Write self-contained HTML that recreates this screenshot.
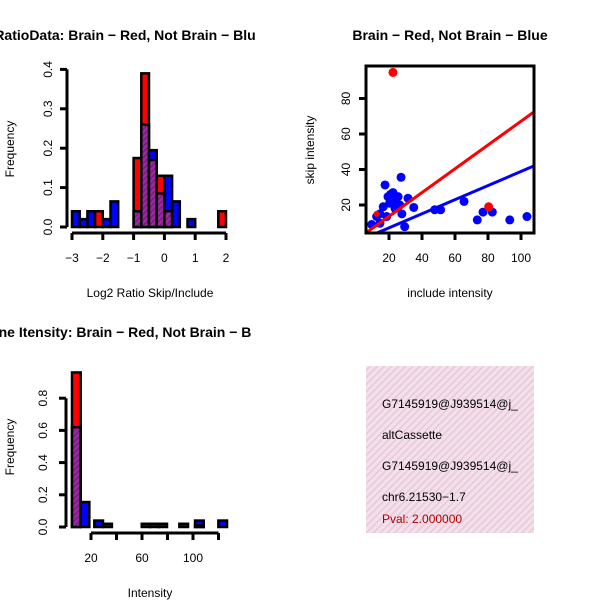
<!DOCTYPE html>
<html><head><meta charset="utf-8"><style>
body{margin:0;background:#fff}
svg{display:block;font-family:"Liberation Sans",sans-serif}
</style></head><body>
<svg id="s" width="600" height="600" viewBox="0 0 600 600">
<defs>
<pattern id="hatch" width="4" height="4" patternUnits="userSpaceOnUse" patternTransform="rotate(45)">
<rect width="4" height="4" fill="#9a2aa0"/><rect width="1.5" height="4" fill="#7a1a80"/></pattern>
<pattern id="pink" width="5" height="5" patternUnits="userSpaceOnUse" patternTransform="rotate(45)">
<rect width="5" height="5" fill="#f9dcf2"/><rect width="1.6" height="5" fill="#dcd2cc"/></pattern>
</defs>
</svg>
<script>
// Panel 1: log2 ratio histogram
const h1Bins=[-3,-2.75,-2.5,-2.25,-2,-1.75,-1.5,-1.25,-1,-0.75,-0.5,-0.25,0,0.25,0.5,0.75,1,1.25,1.5,1.75];
const h1Red=[0,0,0,0.04,0,0,0,0,0.175,0.39,0.17,0.13,0.04,0,0,0,0,0,0,0.04];
const h1Blue=[0.04,0.02,0.04,0,0.02,0.065,0,0,0.04,0.26,0.195,0.085,0.13,0.065,0,0.02,0,0,0,0];
const h1XTicks=[-3,-2,-1,0,1,2];
const h1YTicks=[0,0.1,0.2,0.3,0.4];
// Panel 2: scatter
const blueX=[17.6,27.3,22.4,19.4,25.5,31.5,20.4,26.5,35,47.7,51.3,65.5,73.5,77,82.6,93.2,103.6,29.5,14.5,12.5,9.5,16.5,27.8,23.7,18.6,14.5,21,24];
const blueY=[31.3,35.6,27,24.7,24.7,23.8,21,20,18.6,17.3,17.3,22,11.6,16,16,11.6,13.5,7.8,15,13.5,9,19,15,18,13.5,9.7,26,22];
const redX=[22.4,80.4,12.5];
const redY=[94.7,19,15];
const redFit=[0.2,0.67];
const blueFit=[-0.8,0.397];
const scXTicks=[20,40,60,80,100];
const scYTicks=[20,40,60,80];
// Panel 3: intensity histogram
const h3Start=[5.1,11.9,22.6,29.6,59.8,66.3,72.8,89.3,101.6,119.9];
const h3Red=[0.96,0,0,0,0,0,0,0,0.01,0];
const h3Blue=[0.62,0.155,0.04,0.02,0.02,0.02,0.02,0.02,0.04,0.04];
const h3Width=6.8;
const h3XTicks=[20,40,60,80,100,120];
const h3XLabels=["20","","60","","100",""];
const h3YTicks=[0,0.2,0.4,0.6,0.8];
const infoLines=["G7145919@J939514@j_","altCassette","G7145919@J939514@j_","chr6.21530\u22121.7"];
const pvalText="Pval: 2.000000";

const S=document.getElementById('s');
const NS='http://www.w3.org/2000/svg';
function mk(t,a,txt){const e=document.createElementNS(NS,t);for(const k in a)e.setAttribute(k,a[k]);if(txt!==undefined)e.textContent=txt;S.appendChild(e);return e;}
function fmt(v,d){return v.toFixed(d);}

// ---- Panel 1
const x1=v=>72+(v+3)*30.8, y1=v=>227-v*394;
let t=mk('text',{x:125,y:40,'font-size':14,'font-weight':'bold','text-anchor':'middle'},'RatioData: Brain \u2212 Red, Not Brain \u2212 Blu');

h1Bins.forEach((b,i)=>{
  const r=h1Red[i],bl=h1Blue[i];const hi=Math.max(r,bl),lo=Math.min(r,bl);
  if(hi<=0)return;
  const xa=x1(b),w=x1(b+0.25)-xa;
  let e=mk('rect',{x:xa,y:y1(hi),width:w,height:y1(0)-y1(hi),fill:r>=bl?'#f00':'#00f',stroke:'#000','stroke-width':2.5});
  
  if(lo>0){e=mk('rect',{x:xa,y:y1(lo),width:w,height:y1(0)-y1(lo),fill:'url(#hatch)',stroke:'#000','stroke-width':2.5});
  }
});
mk('line',{x1:67,y1:y1(0),x2:67,y2:y1(0.4),stroke:'#000','stroke-width':3});
h1YTicks.forEach(v=>{mk('line',{x1:60,y1:y1(v),x2:67,y2:y1(v),stroke:'#000','stroke-width':3});
 const e=mk('text',{x:0,y:0,'font-size':12,'text-anchor':'middle',transform:`translate(52,${y1(v)}) rotate(-90)`},fmt(v,1));
 });
mk('line',{x1:x1(-3),y1:233,x2:x1(2),y2:233,stroke:'#000','stroke-width':3});
h1XTicks.forEach(v=>{mk('line',{x1:x1(v),y1:233,x2:x1(v),y2:240,stroke:'#000','stroke-width':3});
 const e=mk('text',{x:x1(v),y:262,'font-size':12,'text-anchor':'middle'},v<0?'\u2212'+(-v):String(v));
 });
t=mk('text',{x:150,y:297,'font-size':12,'text-anchor':'middle'},'Log2 Ratio Skip/Include');

t=mk('text',{x:0,y:0,'font-size':12,'text-anchor':'middle',transform:'translate(14,149) rotate(-90)'},'Frequency');


// ---- Panel 2
const x2=v=>356+v*1.65, y2=v=>240.5-v*1.775;
t=mk('text',{x:450,y:40,'font-size':14,'font-weight':'bold','text-anchor':'middle'},'Brain \u2212 Red, Not Brain \u2212 Blue');

const cp=mk('clipPath',{id:'cp'});const cr=document.createElementNS(NS,'rect');
['x','y','width','height'].forEach((k,i)=>cr.setAttribute(k,[366,66,168,167][i]));cp.appendChild(cr);
const g=mk('g',{'clip-path':'url(#cp)'});
function add(p,tn,a){const e=document.createElementNS(NS,tn);for(const k in a)e.setAttribute(k,a[k]);p.appendChild(e);return e;}
blueX.forEach((x,i)=>{const e=add(g,'circle',{cx:x2(x),cy:y2(blueY[i]),r:4.5,fill:'#00f'});
 });
redX.forEach((x,i)=>{const e=add(g,'circle',{cx:x2(x),cy:y2(redY[i]),r:i==2?3:4.5,fill:'#f00'});
 });
let e=add(g,'line',{x1:x2(0),y1:y2(blueFit[0]),x2:x2(110),y2:y2(blueFit[0]+blueFit[1]*110),stroke:'#00f','stroke-width':3});

e=add(g,'line',{x1:x2(0),y1:y2(redFit[0]),x2:x2(110),y2:y2(redFit[0]+redFit[1]*110),stroke:'#f00','stroke-width':3});

e=mk('rect',{x:366,y:66,width:168,height:167,fill:'none',stroke:'#000','stroke-width':3});

scYTicks.forEach(v=>{mk('line',{x1:359,y1:y2(v),x2:366,y2:y2(v),stroke:'#000','stroke-width':3});
 const e=mk('text',{x:0,y:0,'font-size':12,'text-anchor':'middle',transform:`translate(350,${y2(v)}) rotate(-90)`},String(v));
 });
scXTicks.forEach(v=>{mk('line',{x1:x2(v),y1:233,x2:x2(v),y2:240,stroke:'#000','stroke-width':3});
 const e=mk('text',{x:x2(v),y:262,'font-size':12,'text-anchor':'middle'},String(v));
 });
t=mk('text',{x:450,y:297,'font-size':12,'text-anchor':'middle'},'include intensity');

t=mk('text',{x:0,y:0,'font-size':12,'text-anchor':'middle',transform:'translate(314,150) rotate(-90)'},'skip intensity');


// ---- Panel 3
const x3=v=>65.5+v*1.275, y3=v=>527-v*161;
t=mk('text',{x:125,y:337,'font-size':14,'font-weight':'bold','text-anchor':'middle'},'ne Itensity: Brain \u2212 Red, Not Brain \u2212 B');

h3Start.forEach((b,i)=>{
  const r=h3Red[i],bl=h3Blue[i];const hi=Math.max(r,bl),lo=Math.min(r,bl);
  const xa=x3(b),w=x3(b+h3Width)-xa;
  let e=mk('rect',{x:xa,y:y3(hi),width:w,height:y3(0)-y3(hi),fill:r>=bl?'#f00':'#00f',stroke:'#000','stroke-width':2.5});
  
  if(lo>0){e=mk('rect',{x:xa,y:y3(lo),width:w,height:y3(0)-y3(lo),fill:'url(#hatch)',stroke:'#000','stroke-width':2.5});
  }
});
mk('line',{x1:66,y1:y3(0),x2:66,y2:y3(0.8),stroke:'#000','stroke-width':3});
h3YTicks.forEach(v=>{mk('line',{x1:59,y1:y3(v),x2:66,y2:y3(v),stroke:'#000','stroke-width':3});
 const e=mk('text',{x:0,y:0,'font-size':12,'text-anchor':'middle',transform:`translate(47,${y3(v)}) rotate(-90)`},fmt(v,1));
 });
mk('line',{x1:x3(20),y1:533,x2:x3(120),y2:533,stroke:'#000','stroke-width':3});
h3XTicks.forEach((v,i)=>{mk('line',{x1:x3(v),y1:533,x2:x3(v),y2:540,stroke:'#000','stroke-width':3});
 const e=mk('text',{x:x3(v),y:562,'font-size':12,'text-anchor':'middle'},h3XLabels[i]);
 });
t=mk('text',{x:150,y:597,'font-size':12,'text-anchor':'middle'},'Intensity');

t=mk('text',{x:0,y:0,'font-size':12,'text-anchor':'middle',transform:'translate(14,447) rotate(-90)'},'Frequency');


// ---- Panel 4 info box
e=mk('rect',{x:366,y:366,width:168,height:167,fill:'url(#pink)'});

const cp2=mk('clipPath',{id:'cp2'});const cr2=document.createElementNS(NS,'rect');
['x','y','width','height'].forEach((k,i)=>cr2.setAttribute(k,[366,366,168,167][i]));cp2.appendChild(cr2);
const g2=mk('g',{'clip-path':'url(#cp2)','font-size':12});
infoLines.forEach((s,i)=>{const e=add(g2,'text',{x:382,y:408+i*31});e.textContent=s;
 });
e=add(g2,'text',{x:382,y:523,fill:'#b00000'});e.textContent=pvalText;

</script>
</body></html>
